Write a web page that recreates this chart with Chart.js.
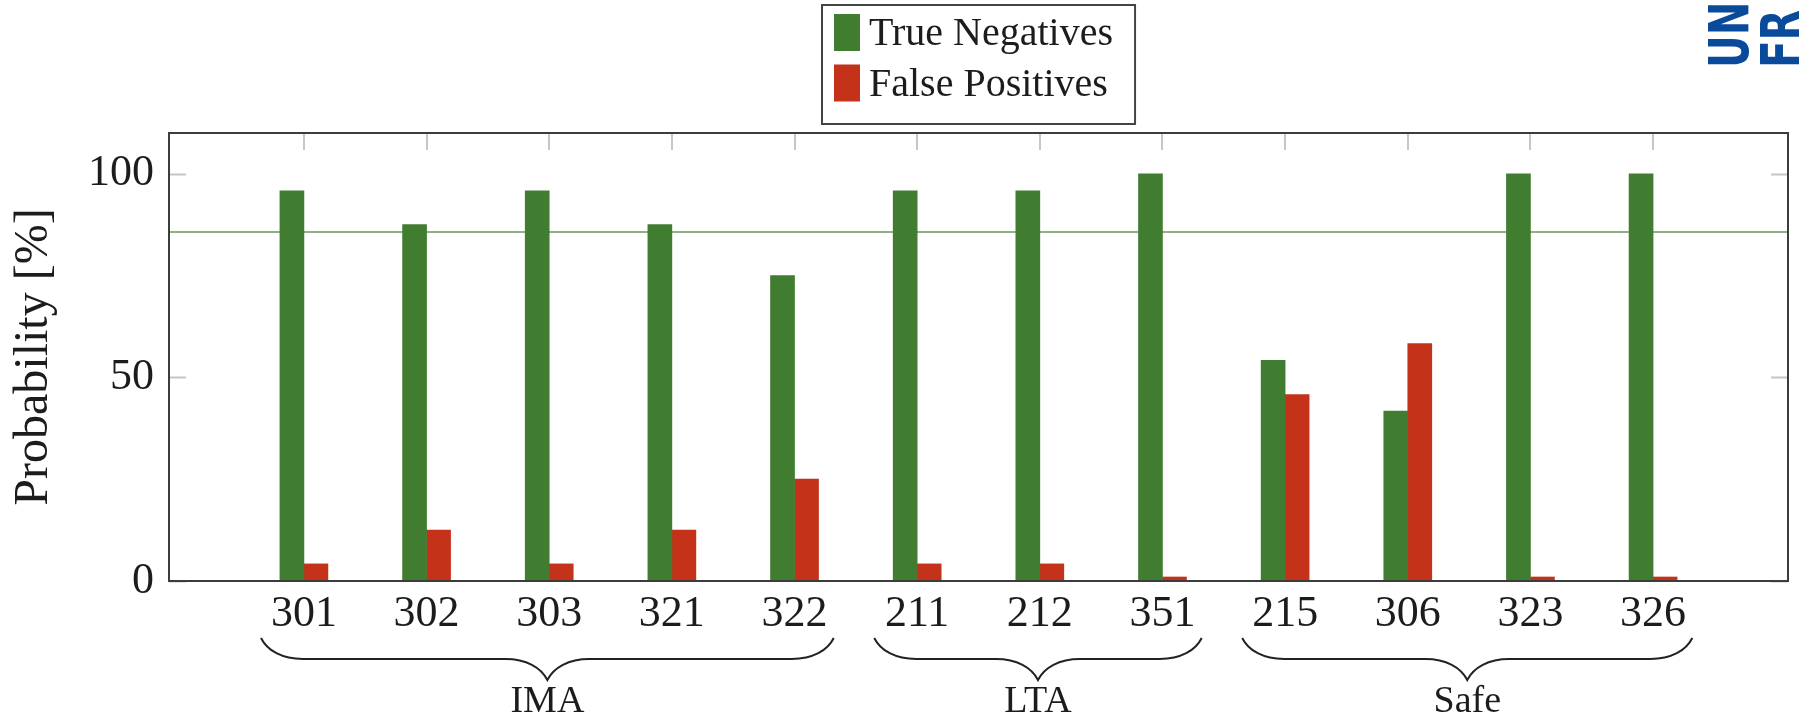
<!DOCTYPE html>
<html>
<head>
<meta charset="utf-8">
<script src="https://cdn.jsdelivr.net/npm/chart.js@4.4.1/dist/chart.umd.min.js"></script>
<style>
  html, body { margin: 0; padding: 0; background: #ffffff; }
  #wrap { width: 1799px; height: 719px; }
</style>
</head>
<body>
<div id="wrap"><canvas id="c" width="1799" height="719"></canvas></div>
<script>
// Per-scenario detection results
const categories = ['301', '302', '303', '321', '322', '211', '212', '351', '215', '306', '323', '326'];
const trueNegatives = [95.8, 87.5, 95.8, 87.5, 75.0, 95.8, 95.8, 100, 54.2, 41.7, 100, 100];
const falsePositives = [4.2, 12.5, 4.2, 12.5, 25.0, 4.2, 4.2, 0, 45.8, 58.3, 0, 0];
const threshold = 85.7;
const yTicks = [0, 50, 100];

// Scenario groups shown with braces under the axis
const groupNames = ['IMA', 'LTA', 'Safe'];
const groupFirst = [0, 5, 8];
const groupLast = [4, 7, 11];

const SERIF = "'Liberation Serif', 'DejaVu Serif', serif";
const GREEN = '#417d30';
const RED = '#c4321a';
const TEXT = '#1c1c1c';

const xMin = -1.1;
const xMax = categories.length - 1 + 1.1;
const toPoints = vals => vals.map((v, i) => ({ x: i, y: v }));

// Plot frame and inward tick marks
const framePlugin = {
  id: 'frame',
  beforeDatasetsDraw(chart) {
    const { ctx, chartArea: a, scales } = chart;
    ctx.save();
    ctx.strokeStyle = '#c6c6c6';
    ctx.lineWidth = 2;
    ctx.beginPath();
    yTicks.forEach(v => {
      const y = Math.round(scales.y.getPixelForValue(v)) + 0.5;
      ctx.moveTo(a.left, y); ctx.lineTo(a.left + 17, y);
      ctx.moveTo(a.right - 17, y); ctx.lineTo(a.right, y);
    });
    categories.forEach((_, i) => {
      const x = Math.round(scales.x.getPixelForValue(i));
      ctx.moveTo(x, a.top); ctx.lineTo(x, a.top + 17);
    });
    ctx.stroke();
    ctx.restore();
  },
  afterDatasetsDraw(chart) {
    const { ctx, chartArea: a } = chart;
    ctx.save();
    ctx.strokeStyle = '#3c3c3c';
    ctx.lineWidth = 2;
    ctx.strokeRect(a.left, a.top, a.right - a.left, a.bottom - a.top);
    ctx.restore();
  }
};

// Boxed legend stacked vertically above the plot
const boxedLegend = {
  id: 'boxedLegend',
  afterDraw(chart) {
    const { ctx, chartArea: a } = chart;
    const items = chart.data.datasets.filter(d => d.type !== 'line');
    ctx.save();
    ctx.font = '40px ' + SERIF;
    const textW = Math.max(...items.map(d => ctx.measureText(d.label).width));
    const padL = 12, sw = 26, sh = 37, gap = 9, padR = 22, rowH = 50.5;
    const boxW = padL + sw + gap + textW + padR;
    const boxH = 119;
    const cx = (a.left + a.right) / 2;
    const bx = Math.round(cx - boxW / 2);
    const by = 5;
    ctx.fillStyle = '#ffffff';
    ctx.fillRect(bx, by, boxW, boxH);
    ctx.strokeStyle = '#444444';
    ctx.lineWidth = 2;
    ctx.strokeRect(bx, by, boxW, boxH);
    items.forEach((d, i) => {
      const rowC = by + 27.5 + i * rowH;
      ctx.fillStyle = d.backgroundColor;
      ctx.fillRect(bx + padL, rowC - sh / 2, sw, sh);
      ctx.fillStyle = TEXT;
      ctx.textBaseline = 'middle';
      ctx.textAlign = 'left';
      ctx.fillText(d.label, bx + padL + sw + gap, rowC + 2);
    });
    ctx.restore();
  }
};

// Curly braces with group names under the category labels
const groupBraces = {
  id: 'groupBraces',
  afterDraw(chart) {
    const { ctx, scales } = chart;
    const y0 = 638, amp = 42;
    ctx.save();
    ctx.strokeStyle = '#222222';
    ctx.lineWidth = 2;
    ctx.font = '38px ' + SERIF;
    ctx.fillStyle = TEXT;
    ctx.textAlign = 'center';
    ctx.textBaseline = 'alphabetic';
    groupNames.forEach((name, g) => {
      const x0 = scales.x.getPixelForValue(groupFirst[g] - 0.35);
      const x1 = scales.x.getPixelForValue(groupLast[g] + 0.32);
      const m = (x0 + x1) / 2;
      const a = amp;
      ctx.beginPath();
      ctx.moveTo(x0, y0);
      ctx.bezierCurveTo(x0 + 0.15 * a, y0 + 0.3 * a, x0 + 0.5 * a, y0 + 0.5 * a, x0 + a, y0 + 0.5 * a);
      ctx.lineTo(m - a, y0 + 0.5 * a);
      ctx.bezierCurveTo(m - 0.5 * a, y0 + 0.5 * a, m - 0.15 * a, y0 + 0.7 * a, m, y0 + a);
      ctx.bezierCurveTo(m + 0.15 * a, y0 + 0.7 * a, m + 0.5 * a, y0 + 0.5 * a, m + a, y0 + 0.5 * a);
      ctx.lineTo(x1 - a, y0 + 0.5 * a);
      ctx.bezierCurveTo(x1 - 0.5 * a, y0 + 0.5 * a, x1 - 0.15 * a, y0 + 0.3 * a, x1, y0);
      ctx.stroke();
      ctx.fillText(name, m, 712);
    });
    ctx.restore();
  }
};

// Rotated logo lettering in the top-right corner
const cornerLogo = {
  id: 'cornerLogo',
  afterDraw(chart) {
    const { ctx } = chart;
    ctx.save();
    ctx.fillStyle = '#0a4a9a';
    ctx.font = "bold 56px 'DejaVu Sans', sans-serif";
    ctx.textBaseline = 'alphabetic';
    ctx.textAlign = 'left';
    [['UN', 1748], ['FR', 1800]].forEach(([t, bx]) => {
      ctx.save();
      ctx.translate(bx, 68);
      ctx.rotate(-Math.PI / 2);
      ctx.scale(0.72, 1);
      ctx.fillText(t, 0, 0);
      ctx.restore();
    });
    ctx.restore();
  }
};

new Chart(document.getElementById('c'), {
  type: 'bar',
  data: {
    datasets: [
      {
        label: 'True Negatives',
        data: toPoints(trueNegatives),
        backgroundColor: GREEN,
        barThickness: 24,
        minBarLength: 4,
        order: 1
      },
      {
        label: 'False Positives',
        data: toPoints(falsePositives),
        backgroundColor: RED,
        barThickness: 24,
        minBarLength: 4,
        order: 1
      },
      {
        type: 'line',
        label: 'threshold',
        data: [{ x: xMin, y: threshold }, { x: xMax, y: threshold }],
        borderColor: 'rgba(65,125,48,0.6)',
        borderWidth: 2,
        pointRadius: 0,
        order: 2
      }
    ]
  },
  options: {
    responsive: false,
    animation: false,
    layout: { padding: { left: 0, right: 11, top: 133, bottom: 88 } },
    plugins: { legend: { display: false }, tooltip: { enabled: false } },
    scales: {
      x: {
        type: 'linear',
        offset: false,
        min: xMin,
        max: xMax,
        grid: { display: false, drawTicks: false },
        border: { display: false },
        afterBuildTicks: s => { s.ticks = categories.map((_, i) => ({ value: i })); },
        afterFit: s => { s.height = 50; },
        ticks: {
          callback: v => categories[v],
          font: { family: SERIF, size: 44 },
          color: TEXT,
          padding: 7,
          maxRotation: 0,
          autoSkip: false
        }
      },
      y: {
        min: 0,
        max: 110,
        grid: { display: false, drawTicks: false },
        border: { display: false },
        afterBuildTicks: s => { s.ticks = yTicks.map(v => ({ value: v })); },
        afterFit: s => { s.width = 169; },
        ticks: {
          font: { family: SERIF, size: 44 },
          color: TEXT,
          padding: 15
        },
        title: {
          display: true,
          text: 'Probability [%]',
          font: { family: SERIF, size: 48 },
          color: TEXT,
          padding: { top: 6, bottom: 0 }
        }
      }
    }
  },
  plugins: [framePlugin, boxedLegend, groupBraces, cornerLogo]
});
</script>
</body>
</html>
